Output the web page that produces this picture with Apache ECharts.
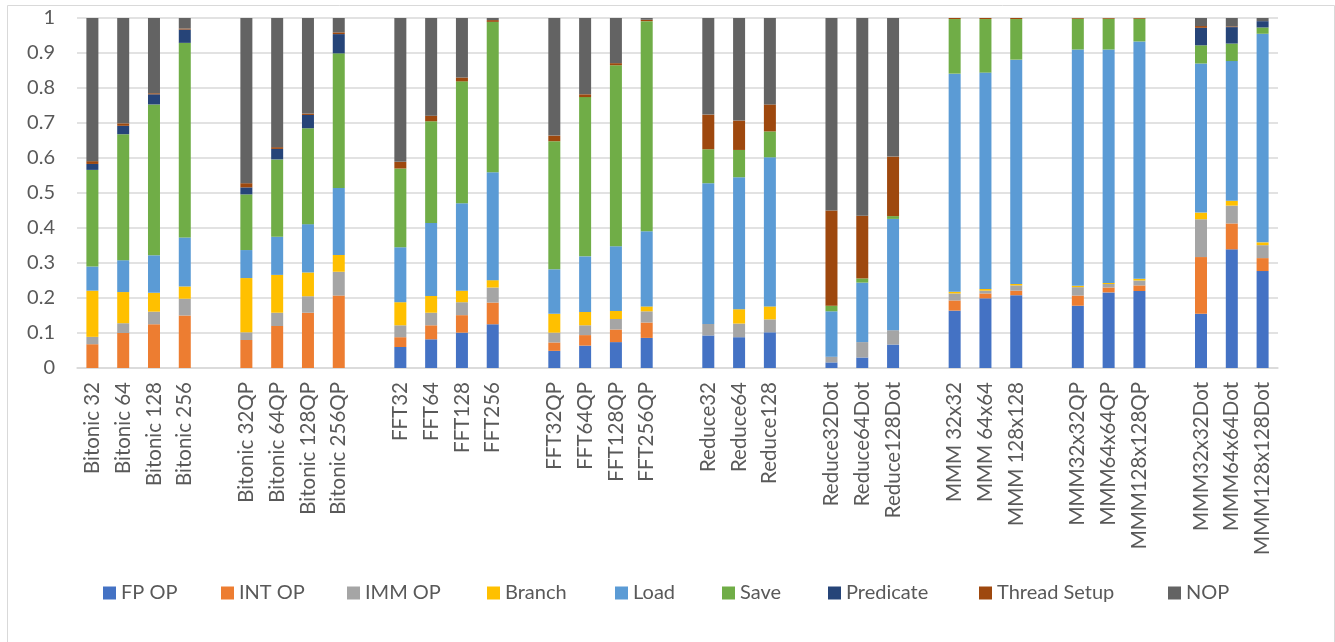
<!DOCTYPE html>
<html>
<head>
<meta charset="utf-8">
<script src="https://cdn.jsdelivr.net/npm/echarts@6/dist/echarts.min.js"></script>
<style>
html,body{margin:0;padding:0;background:#fff;}
#chart{width:1335px;height:642px;}
</style>
</head>
<body>
<div id="chart"></div>
<script>
const categories = ['Bitonic 32','Bitonic 64','Bitonic 128','Bitonic 256','',
  'Bitonic 32QP','Bitonic 64QP','Bitonic 128QP','Bitonic 256QP','',
  'FFT32','FFT64','FFT128','FFT256','',
  'FFT32QP','FFT64QP','FFT128QP','FFT256QP','',
  'Reduce32','Reduce64','Reduce128','',
  'Reduce32Dot','Reduce64Dot','Reduce128Dot','',
  'MMM 32x32','MMM 64x64','MMM 128x128','',
  'MMM32x32QP','MMM64x64QP','MMM128x128QP','',
  'MMM32x32Dot','MMM64x64Dot','MMM128x128Dot'];

const seriesNames = ['FP OP','INT OP','IMM OP','Branch','Load','Save','Predicate','Thread Setup','NOP'];

const fpOp = [0,0,0,0,null, 0,0,0,0,null, 0.060,0.082,0.101,0.125,null, 0.049,0.064,0.074,0.086,null, 0.093,0.088,0.102,null, 0.016,0.030,0.067,null, 0.164,0.199,0.208,null, 0.178,0.216,0.220,null, 0.155,0.339,0.277];
const intOp = [0.068,0.100,0.125,0.150,null, 0.080,0.120,0.158,0.207,null, 0.028,0.040,0.050,0.062,null, 0.024,0.030,0.036,0.044,null, 0,0,0,null, 0,0,0,null, 0.029,0.014,0.013,null, 0.029,0.014,0.016,null, 0.162,0.074,0.037];
const immOp = [0.021,0.028,0.036,0.048,null, 0.022,0.038,0.047,0.068,null, 0.034,0.036,0.037,0.043,null, 0.028,0.028,0.030,0.032,null, 0.033,0.039,0.037,null, 0.016,0.044,0.041,null, 0.020,0.008,0.015,null, 0.024,0.010,0.014,null, 0.108,0.051,0.037];
const branch = [0.132,0.089,0.054,0.035,null, 0.155,0.108,0.068,0.048,null, 0.066,0.048,0.033,0.021,null, 0.054,0.038,0.023,0.014,null, 0,0.041,0.037,null, 0,0,0,null, 0.005,0.005,0.004,null, 0.004,0.003,0.005,null, 0.019,0.014,0.008];
const load = [0.069,0.091,0.107,0.140,null, 0.080,0.109,0.138,0.191,null, 0.157,0.208,0.250,0.308,null, 0.127,0.159,0.185,0.215,null, 0.402,0.377,0.426,null, 0.130,0.170,0.318,null, 0.623,0.618,0.641,null, 0.675,0.667,0.678,null, 0.426,0.399,0.596];
const save = [0.276,0.360,0.431,0.556,null, 0.159,0.221,0.274,0.385,null, 0.225,0.291,0.348,0.430,null, 0.366,0.455,0.517,0.600,null, 0.097,0.078,0.074,null, 0.016,0.012,0.008,null, 0.156,0.153,0.116,null, 0.088,0.088,0.065,null, 0.052,0.050,0.018];
const predicate = [0.017,0.024,0.029,0.038,null, 0.020,0.030,0.038,0.055,null, 0,0,0,0,null, 0,0,0,0,null, 0,0,0,null, 0,0,0,null, 0,0,0,null, 0,0,0,null, 0.050,0.047,0.018];
const threadSetup = [0.008,0.007,0.003,0.003,null, 0.012,0.005,0.004,0.005,null, 0.019,0.016,0.011,0.005,null, 0.016,0.008,0.006,0.004,null, 0.099,0.084,0.077,null, 0.272,0.179,0.170,null, 0.003,0.003,0.003,null, 0.002,0.002,0.002,null, 0.005,0.002,0];
const nop = [0.409,0.301,0.215,0.030,null, 0.472,0.369,0.273,0.041,null, 0.411,0.279,0.170,0.006,null, 0.336,0.218,0.129,0.005,null, 0.276,0.293,0.247,null, 0.550,0.565,0.396,null, 0,0,0,null, 0,0,0,null, 0.023,0.024,0.009];

const seriesData = [fpOp, intOp, immOp, branch, load, save, predicate, threadSetup, nop];
const colors = ['#4472C4','#ED7D31','#A5A5A5','#FFC000','#5B9BD5','#70AD47','#264478','#9E480E','#636363'];
// legend marker x positions (layout)
const legendLeft = [103, 221, 347, 487, 615, 722, 828, 979, 1168];

const chart = echarts.init(document.getElementById('chart'), null, {renderer:'canvas'});
const font = 'Lato, "Open Sans", sans-serif';
chart.setOption({
  animation: false,
  color: colors,
  textStyle: {fontFamily: font},
  graphic: [{
    type: 'rect', left: 5, top: 3,
    shape: {width: 1327, height: 637},
    style: {fill: 'none', stroke: '#d9d9d9', lineWidth: 1},
    silent: true
  }],
  grid: {left: 77, right: 57, top: 18, bottom: 274, containLabel: false},
  legend: seriesNames.map((n, i) => ({
    left: legendLeft[i], top: 583, padding: 0,
    itemWidth: 13, itemHeight: 13,
    icon: 'rect',
    textStyle: {fontSize: 20, color: '#595959', fontFamily: font},
    data: [n]
  })),
  xAxis: {
    type: 'category',
    data: categories,
    axisLine: {lineStyle: {color: '#d9d9d9', width: 1.5}},
    axisTick: {show: false},
    axisLabel: {interval: 0, rotate: 90, fontSize: 20.5, color: '#595959', margin: 14, fontFamily: font}
  },
  yAxis: {
    type: 'value', min: 0, max: 1, interval: 0.1,
    axisLine: {show: false}, axisTick: {show: false},
    splitLine: {lineStyle: {color: '#d9d9d9', width: 1.5}},
    axisLabel: {fontSize: 20, color: '#595959', margin: 22, fontFamily: font}
  },
  series: seriesNames.map((n, i) => ({
    name: n, type: 'bar', stack: 'total',
    barWidth: 12,
    data: seriesData[i],
    itemStyle: {color: colors[i]}
  }))
});
</script>
</body>
</html>
